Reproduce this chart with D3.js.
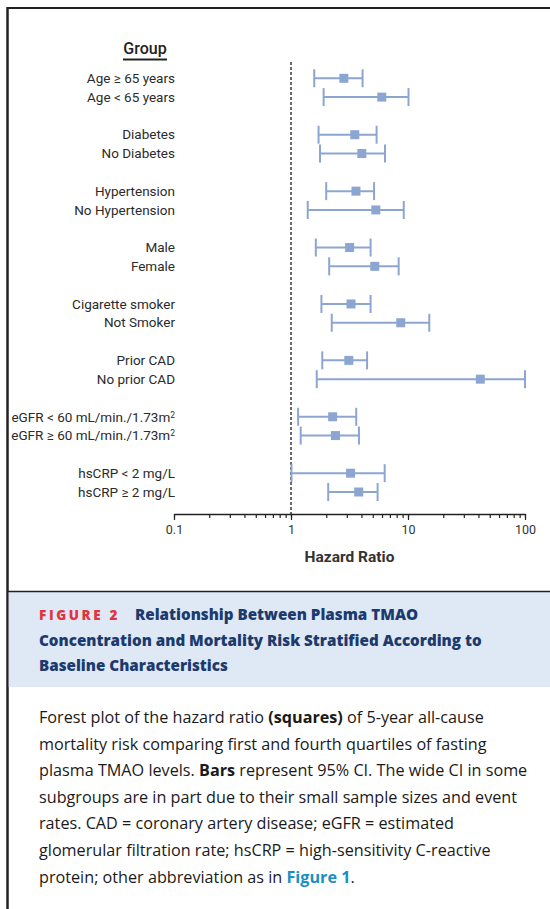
<!DOCTYPE html>
<html>
<head>
<meta charset="utf-8">
<script src="https://cdn.jsdelivr.net/npm/d3@7"></script>
<style>
  body { margin: 0; background: #fff; }
  svg { display: block; }
  .label { font-family: Roboto, sans-serif; font-size: 13.5px; fill: #2b2b2b; }
  .tick text { font-family: Roboto, sans-serif; font-size: 12.5px; fill: #333; }
</style>
</head>
<body>
<div class="chart"></div>
<script>
// subgroup rows, top to bottom (two per group)
var labels = [
  "Age \u2265 65 years", "Age < 65 years",
  "Diabetes", "No Diabetes",
  "Hypertension", "No Hypertension",
  "Male", "Female",
  "Cigarette smoker", "Not Smoker",
  "Prior CAD", "No prior CAD",
  "eGFR < 60 mL/min./1.73m\u00b2", "eGFR \u2265 60 mL/min./1.73m\u00b2",
  "hsCRP < 2 mg/L", "hsCRP \u2265 2 mg/L"
];
// hazard ratio and 95% CI
var hr    = [2.83, 5.97, 3.51, 4.03, 3.59, 5.31, 3.17, 5.20, 3.26, 8.67, 3.12, 41.5, 2.27, 2.40, 3.23, 3.79];
var lower = [1.58, 1.90, 1.72, 1.77, 2.00, 1.39, 1.63, 2.12, 1.82, 2.23, 1.85, 1.66, 1.15, 1.21, 1.01, 2.08];
var upper = [4.09, 10.1, 5.39, 6.36, 5.13, 9.20, 4.79, 8.32, 4.79, 15.2, 4.47, 100,  3.61, 3.81, 6.32, 5.50];

var majorTicks = [0.1, 1, 10, 100];
var tickLabels = ["0.1", "1", "10", "100"];

var titleLines = [
  "Concentration and Mortality Risk Stratified According to",
  "Baseline Characteristics"
];
// body text: each line is a list of [text, style] (1 = bold, 2 = link)
var bodyLines = [
  [["Forest plot of the hazard ratio ", 0], ["(squares)", 1], [" of 5-year all-cause", 0]],
  [["mortality risk comparing first and fourth quartiles of fasting", 0]],
  [["plasma TMAO levels. ", 0], ["Bars", 1], [" represent 95% CI. The wide CI in some", 0]],
  [["subgroups are in part due to their small sample sizes and event", 0]],
  [["rates. CAD = coronary artery disease; eGFR = estimated", 0]],
  [["glomerular filtration rate; hsCRP = high-sensitivity C-reactive", 0]],
  [["protein; other abbreviation as in ", 0], ["Figure 1", 2], [".", 0]]
];

var width = 550, height = 909;
var markColor = "#8ca6d1";

var svg = d3.select(".chart").append("svg")
  .attr("width", width)
  .attr("height", height);

// frame: top and left rules
svg.append("line").attr("x1", 7).attr("x2", width).attr("y1", 8).attr("y2", 8)
  .attr("stroke", "#222").attr("stroke-width", 2);
svg.append("line").attr("x1", 7.5).attr("x2", 7.5).attr("y1", 7).attr("y2", height)
  .attr("stroke", "#222").attr("stroke-width", 2.5);

var x = d3.scaleLog().domain([0.1, 100]).range([174, 525]);
// row index: two rows per group, one blank row between groups
var rowIndex = function(i) { return Math.floor(i / 2) * 3 + (i % 2); };
var y = d3.scaleLinear().domain([0, 22]).range([78.3, 492]);

var axisY = 514;

// header
svg.append("text")
  .attr("x", 145).attr("y", 54)
  .attr("text-anchor", "middle")
  .style("font-family", "Roboto, sans-serif")
  .style("font-size", "16px")
  .style("font-weight", 500)
  .style("fill", "#222")
  .text("Group");
svg.append("line").attr("x1", 123).attr("x2", 167).attr("y1", 59.5).attr("y2", 59.5)
  .attr("stroke", "#222").attr("stroke-width", 2);

// reference line at HR = 1
svg.append("line")
  .attr("x1", x(1)).attr("x2", x(1))
  .attr("y1", 62).attr("y2", axisY)
  .attr("stroke", "#444")
  .attr("stroke-width", 1.6)
  .attr("stroke-dasharray", "3,2");

// axis: minor ticks, then major ticks with labels
svg.append("g")
  .attr("transform", "translate(0," + axisY + ")")
  .call(d3.axisBottom(x).tickValues(x.ticks()).tickSize(4).tickSizeOuter(0).tickFormat(""))
  .call(function(g) {
    g.select(".domain").attr("stroke", "#222").attr("stroke-width", 1.5);
    g.selectAll(".tick line").attr("stroke", "#222").attr("stroke-width", 1.2);
  });

svg.append("g")
  .attr("transform", "translate(0," + axisY + ")")
  .call(d3.axisBottom(x).tickValues(majorTicks).tickSize(6).tickSizeOuter(0)
    .tickFormat(function(d, i) { return tickLabels[i]; }))
  .call(function(g) {
    g.select(".domain").remove();
    g.selectAll(".tick line").attr("stroke", "#222").attr("stroke-width", 1.2);
    g.selectAll(".tick text").attr("dy", "0.9em").attr("y", 9);
  });

svg.append("text")
  .attr("x", (x(0.1) + x(100)) / 2).attr("y", 562)
  .attr("text-anchor", "middle")
  .style("font-family", "Roboto, sans-serif")
  .style("font-size", "15.5px")
  .style("font-weight", 700)
  .style("fill", "#333")
  .text("Hazard Ratio");

// labels; a trailing "²" is drawn as a small raised 2
var label = svg.selectAll(".label")
  .data(labels)
  .enter()
  .append("text")
  .attr("class", "label")
  .attr("x", 175)
  .attr("y", function(d, i) { return y(rowIndex(i)); })
  .attr("dy", "0.35em")
  .attr("text-anchor", "end");

label.append("tspan")
  .text(function(d) { return d.replace("\u00b2", ""); });
label.filter(function(d) { return d.indexOf("\u00b2") >= 0; })
  .append("tspan")
  .attr("dy", "-0.45em")
  .style("font-size", "8.5px")
  .text("2");

// CI bars, caps and squares
var rows = svg.append("g").selectAll("g")
  .data(hr)
  .enter()
  .append("g")
  .attr("transform", function(d, i) { return "translate(0," + y(rowIndex(i)) + ")"; });

rows.append("line")
  .attr("x1", function(d, i) { return x(lower[i]); })
  .attr("x2", function(d, i) { return x(upper[i]); })
  .attr("stroke", markColor).attr("stroke-width", 2);

rows.append("line")
  .attr("x1", function(d, i) { return x(lower[i]); })
  .attr("x2", function(d, i) { return x(lower[i]); })
  .attr("y1", -9).attr("y2", 9)
  .attr("stroke", markColor).attr("stroke-width", 2);

rows.append("line")
  .attr("x1", function(d, i) { return x(upper[i]); })
  .attr("x2", function(d, i) { return x(upper[i]); })
  .attr("y1", -9).attr("y2", 9)
  .attr("stroke", markColor).attr("stroke-width", 2);

rows.append("rect")
  .attr("x", function(d) { return x(d) - 4.5; })
  .attr("y", -4.5)
  .attr("width", 9).attr("height", 9)
  .attr("fill", markColor);

// caption band
svg.append("rect")
  .attr("x", 8.75).attr("y", 592).attr("width", width - 8.75).attr("height", 95)
  .attr("fill", "#dfe9f5");
svg.append("line").attr("x1", 7).attr("x2", width).attr("y1", 591.5).attr("y2", 591.5)
  .attr("stroke", "#222").attr("stroke-width", 1.5);

var titleFont = "'Open Sans', sans-serif";

var title = svg.append("text")
  .attr("x", 39).attr("y", 620)
  .style("font-family", titleFont)
  .style("font-weight", 800)
  .style("font-size", "15.2px")
  .style("fill", "#1c3a6e");
title.append("tspan")
  .style("fill", "#e2343f")
  .style("letter-spacing", "2.6px")
  .style("font-size", "13.5px")
  .text("FIGURE 2");
title.append("tspan")
  .attr("x", 135)
  .text("Relationship Between Plasma TMAO");

svg.selectAll(".titleLine")
  .data(titleLines)
  .enter()
  .append("text")
  .attr("class", "titleLine")
  .attr("x", 39)
  .attr("y", function(d, i) { return 645.5 + i * 25.5; })
  .style("font-family", titleFont)
  .style("font-weight", 800)
  .style("font-size", "15.2px")
  .style("fill", "#1c3a6e")
  .text(function(d) { return d; });

var body = svg.selectAll(".bodyLine")
  .data(bodyLines)
  .enter()
  .append("text")
  .attr("class", "bodyLine")
  .attr("x", 39)
  .attr("y", function(d, i) { return 723 + i * 26.6; })
  .style("font-family", "'Open Sans', sans-serif")
  .style("font-size", "16.2px")
  .style("fill", "#1a1a1a");

body.selectAll("tspan")
  .data(function(d) { return d; })
  .enter()
  .append("tspan")
  .style("font-weight", function(d) { return d[1] ? 700 : 400; })
  .style("fill", function(d) { return d[1] === 2 ? "#1a8fc2" : null; })
  .text(function(d) { return d[0]; });
</script>
</body>
</html>
